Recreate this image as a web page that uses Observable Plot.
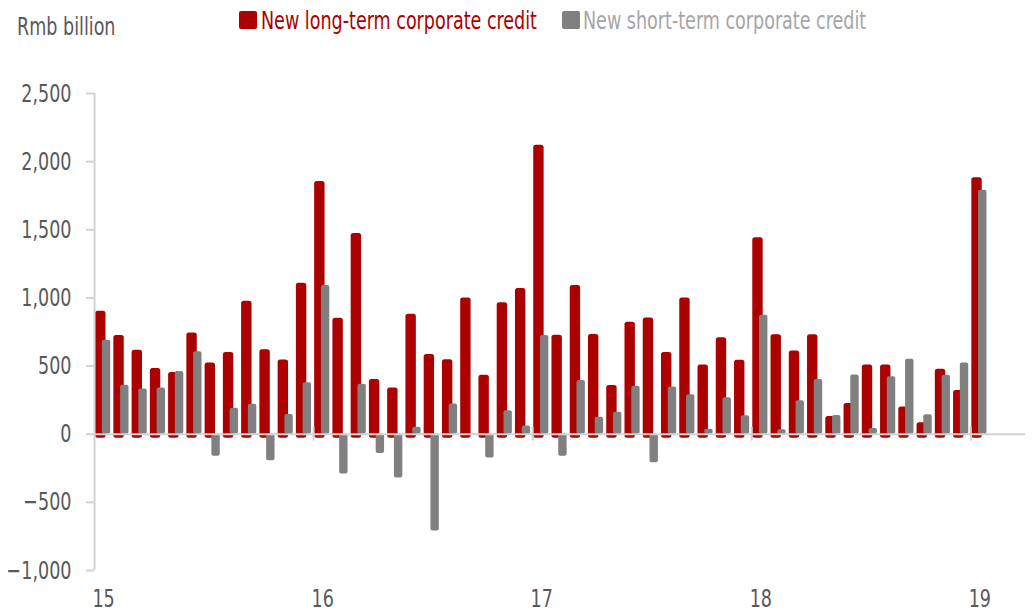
<!DOCTYPE html>
<html>
<head>
<meta charset="utf-8">
<script src="https://cdn.jsdelivr.net/npm/d3@7"></script>
<script src="https://cdn.jsdelivr.net/npm/@observablehq/plot@0.6"></script>
<style>
  body { margin: 0; background: #fff; }
  #wrap { position: relative; width: 1032px; height: 614px; font-family: "Liberation Sans Narrow", "DejaVu Sans Condensed", "Arial Narrow", sans-serif; }
  .lbl { position: absolute; font-size: 25px; line-height: 25px; white-space: nowrap; transform: scaleX(0.78); transform-origin: 0 50%; }
  .sw { position: absolute; width: 18px; height: 18px; border-radius: 2px; }
  #chart { position: absolute; left: 0; top: 0; }
</style>
</head>
<body>
<div id="wrap">
  <div id="chart"></div>
  <div class="lbl" style="left:17px;top:14px;color:#595959;">Rmb billion</div>
  <div class="sw" style="left:239px;top:11px;background:#ad0000;"></div>
  <div class="lbl" style="left:261px;top:8px;color:#ad0000;">New long-term corporate credit</div>
  <div class="sw" style="left:562px;top:11px;background:#808080;"></div>
  <div class="lbl" style="left:583px;top:8px;color:#a6a6a6;">New short-term corporate credit</div>
</div>
<script>
// Monthly, Jan 2015 .. Jan 2019 (Rmb billion)
const longTerm = [
  902, 725, 617, 482, 452, 742, 522, 600, 975, 620, 545, 1107,
  1855, 850, 1472, 402, 340, 880, 585, 547, 1000, 432, 965, 1070,
  2120, 727, 1092, 732, 357, 822, 852, 600, 1000, 507, 707, 542,
  1442, 730, 610, 730, 130, 225, 507, 507, 200, 85, 477, 320,
  1882
];
const shortTerm = [
  690, 360, 332, 340, 460, 605, -162, 190, 220, -195, 145, 377,
  1092, -292, 367, -142, -322, 52, -710, 222, -5, -175, 172, 60,
  725, -162, 395, 125, 162, 352, -210, 347, 290, 37, 267, 135,
  872, 32, 245, 402, 137, 435, 42, 422, 550, 142, 432, 522,
  1790
];
const yearLabels = ["15", "16", "17", "18", "19"];
const yTicks = [-1000, -500, 0, 500, 1000, 1500, 2000, 2500];

const red = "#ad0000";
const gray = "#808080";
const axisGray = "#d2d2d2";
const textGray = "#595959";

const data = longTerm.map((v, i) => ({ i, long: v, short: shortTerm[i] }));
const yearTicks = yearLabels.map((_, k) => 12 * k);

const chart = Plot.plot({
  width: 1032,
  height: 614,
  marginTop: 93,
  marginBottom: 44,
  marginLeft: 94,
  marginRight: 7,
  style: { fontFamily: '"Liberation Sans Narrow", "DejaVu Sans Condensed", sans-serif', background: "transparent" },
  x: { type: "linear", domain: [0, 51] },
  y: { domain: [-1000, 2500] },
  marks: [
    Plot.rectY(data, { x1: d => d.i + 0.06, x2: d => d.i + 0.63, y1: 0, y2: "long", fill: red, rx: 2.5, insetBottom: -4 }),
    Plot.rectY(data, { x1: d => d.i + 0.43, x2: d => d.i + 0.89, y1: 0, y2: "short", fill: gray, rx: 2 }),
    Plot.ruleY([0], { stroke: axisGray, strokeWidth: 2 }),
    Plot.ruleX(yearTicks.slice(1), { y1: 0, y2: 0, insetTop: -7, insetBottom: -7, stroke: axisGray, strokeWidth: 2 }),
    Plot.ruleX([0], { stroke: axisGray, strokeWidth: 2 }),
    Plot.axisY({ ticks: yTicks, tickFormat: d3.format(","), tickSize: 8, tickPadding: 15, fontSize: 25, stroke: axisGray, strokeWidth: 2, fill: textGray, label: null }),
    Plot.axisX({ ticks: yearTicks.map(t => t + 0.5), tickFormat: (d) => yearLabels[Math.round((d - 0.5) / 12)], tickSize: 0, tickPadding: 19, fontSize: 25, fill: textGray, label: null })
  ]
});

// Condense axis text horizontally to mimic the narrow typeface of the original
const sx = 0.78;
chart.querySelectorAll("text").forEach(t => {
  const tr = t.getAttribute("transform");
  if (tr && tr.includes("translate")) {
    t.setAttribute("transform", tr + ` scale(${sx},1)`);
  } else {
    const x = +(t.getAttribute("x") || 0), y = +(t.getAttribute("y") || 0);
    t.removeAttribute("x"); t.removeAttribute("y");
    t.setAttribute("transform", `translate(${x},${y}) scale(${sx},1)`);
  }
});
document.getElementById("chart").appendChild(chart);
</script>
</body>
</html>
